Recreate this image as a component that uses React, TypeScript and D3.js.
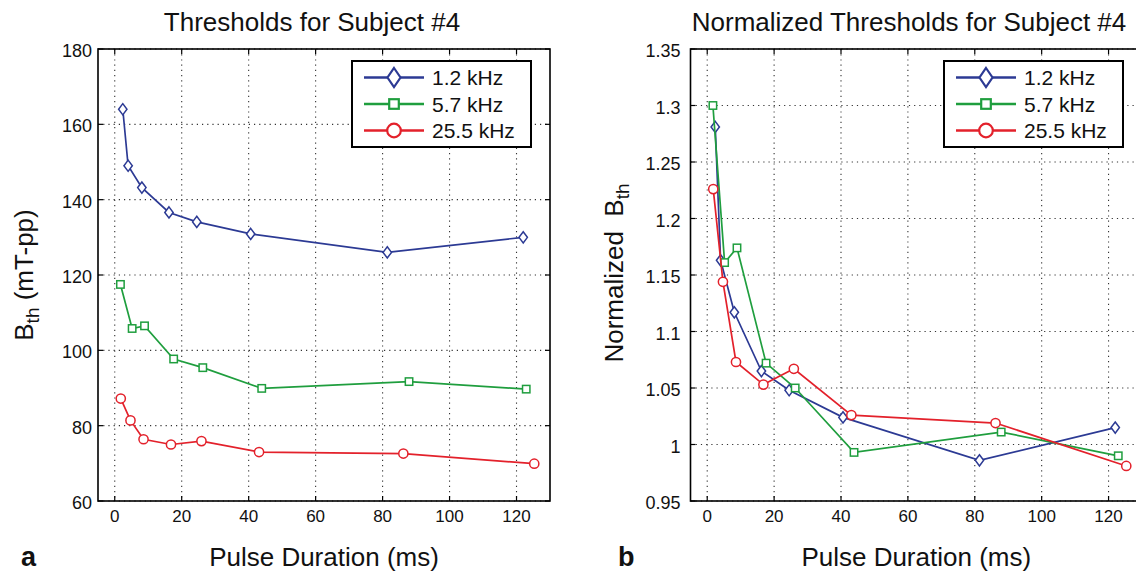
import React, { useEffect, useRef } from 'react';
import * as d3 from 'd3';

// Pulse durations (ms) for each carrier frequency
const durations12 = [2.4, 4.0, 8.1, 16.2, 24.5, 40.6, 81.4, 122.0];
const durations57 = [1.7, 5.2, 8.9, 17.6, 26.3, 43.9, 87.9, 122.9];
const durations255 = [1.8, 4.7, 8.6, 16.8, 25.9, 43.1, 86.2, 125.3];

// Panel a: thresholds (mT-pp)
const thresh12 = [164.0, 149.0, 143.2, 136.6, 134.1, 130.9, 126.0, 130.0];
const thresh57 = [117.5, 105.8, 106.5, 97.7, 95.4, 89.9, 91.7, 89.7];
const thresh255 = [87.2, 81.4, 76.4, 75.0, 75.9, 73.0, 72.6, 69.9];

// Panel b: normalized thresholds
const norm12 = [1.281, 1.163, 1.117, 1.065, 1.048, 1.024, 0.986, 1.015];
const norm57 = [1.3, 1.161, 1.174, 1.072, 1.05, 0.993, 1.011, 0.99];
const norm255 = [1.226, 1.144, 1.073, 1.053, 1.067, 1.026, 1.019, 0.981];

const seriesLabels = ['1.2 kHz', '5.7 kHz', '25.5 kHz'];
const xTicks = [0, 20, 40, 60, 80, 100, 120];
const yTicksA = [60, 80, 100, 120, 140, 160, 180];
const yTicksB = [0.95, 1, 1.05, 1.1, 1.15, 1.2, 1.25, 1.3, 1.35];

const colors = ['#2c3a94', '#1f9e3e', '#e3212b'];
const markers = ['diamond', 'square', 'circle'];
const font = "'Liberation Sans', Arial, Helvetica, sans-serif";

type Panel = {
  left: number;
  right: number;
  top: number;
  bottom: number;
  yDomain: [number, number];
  yTicks: number[];
  yFormat: (v: number) => string;
  series: { x: number[]; y: number[] }[];
  title: string;
  titleX: number;
  letter: string;
  letterX: number;
  legendX: number;
  tickPad: number;
};

function drawMarker(g: any, kind: string, x: number, y: number, color: string, big: boolean) {
  const sw = big ? 2.2 : 1.5;
  if (kind === 'diamond') {
    const w = big ? 6.5 : 4.2;
    const h = big ? 9.5 : 5.6;
    g.append('path')
      .attr('d', `M${x},${y - h}L${x + w},${y}L${x},${y + h}L${x - w},${y}Z`)
      .attr('fill', 'white').attr('stroke', color).attr('stroke-width', sw);
  } else if (kind === 'square') {
    const s = big ? 4.8 : 3.7;
    g.append('rect')
      .attr('x', x - s).attr('y', y - s).attr('width', 2 * s).attr('height', 2 * s)
      .attr('fill', 'white').attr('stroke', color).attr('stroke-width', sw);
  } else {
    g.append('circle')
      .attr('cx', x).attr('cy', y).attr('r', big ? 6.8 : 4.6)
      .attr('fill', 'white').attr('stroke', color).attr('stroke-width', sw);
  }
}

function drawPanel(svg: any, p: Panel) {
  const x = d3.scaleLinear().domain([-5, 130]).range([p.left, p.right]);
  const y = d3.scaleLinear().domain(p.yDomain).range([p.bottom, p.top]);
  const g = svg.append('g');

  // dotted grid
  const grid = g.append('g').attr('stroke', '#333').attr('stroke-width', 1.1).attr('stroke-dasharray', '1.2,4');
  xTicks.forEach(t => {
    grid.append('line').attr('x1', x(t)).attr('x2', x(t)).attr('y1', p.top).attr('y2', p.bottom);
  });
  p.yTicks.forEach(t => {
    grid.append('line').attr('x1', p.left).attr('x2', p.right).attr('y1', y(t)).attr('y2', y(t));
  });

  // inward ticks on all four sides
  const ticks = g.append('g').attr('stroke', '#000').attr('stroke-width', 1.2);
  xTicks.forEach(t => {
    ticks.append('line').attr('x1', x(t)).attr('x2', x(t)).attr('y1', p.bottom).attr('y2', p.bottom - 5);
    ticks.append('line').attr('x1', x(t)).attr('x2', x(t)).attr('y1', p.top).attr('y2', p.top + 5);
  });
  p.yTicks.forEach(t => {
    ticks.append('line').attr('x1', p.left).attr('x2', p.left + 5).attr('y1', y(t)).attr('y2', y(t));
    ticks.append('line').attr('x1', p.right).attr('x2', p.right - 5).attr('y1', y(t)).attr('y2', y(t));
  });

  // axes box
  g.append('rect')
    .attr('x', p.left).attr('y', p.top)
    .attr('width', p.right - p.left).attr('height', p.bottom - p.top)
    .attr('fill', 'none').attr('stroke', '#000').attr('stroke-width', 1.6);

  // tick labels
  g.selectAll('.xt').data(xTicks).enter().append('text')
    .attr('x', (d: number) => x(d)).attr('y', 522)
    .attr('text-anchor', 'middle').attr('font-size', 17).attr('font-family', font).attr('fill', '#111')
    .text((d: number) => String(d));
  g.selectAll('.yt').data(p.yTicks).enter().append('text')
    .attr('x', p.left - p.tickPad).attr('y', (d: number) => y(d) + 8)
    .attr('text-anchor', 'end').attr('font-size', 18).attr('font-family', font).attr('fill', '#111')
    .text((d: number) => p.yFormat(d));

  // series
  const line = d3.line<[number, number]>().x(d => x(d[0])).y(d => y(d[1]));
  p.series.forEach((s, i) => {
    const pts = s.x.map((v, j) => [v, s.y[j]] as [number, number]);
    g.append('path').attr('d', line(pts)).attr('fill', 'none')
      .attr('stroke', colors[i]).attr('stroke-width', 1.7);
    pts.forEach(pt => drawMarker(g, markers[i], x(pt[0]), y(pt[1]), colors[i], false));
  });

  // legend
  const lg = g.append('g');
  lg.append('rect')
    .attr('x', p.legendX).attr('y', 61).attr('width', 179).attr('height', 86)
    .attr('fill', 'white').attr('stroke', '#000').attr('stroke-width', 2);
  seriesLabels.forEach((lab, i) => {
    const ry = 77.5 + i * 26.5;
    lg.append('line')
      .attr('x1', p.legendX + 12).attr('x2', p.legendX + 72).attr('y1', ry).attr('y2', ry)
      .attr('stroke', colors[i]).attr('stroke-width', 2.6);
    drawMarker(lg, markers[i], p.legendX + 42, ry, colors[i], true);
    lg.append('text')
      .attr('x', p.legendX + 80).attr('y', ry + 7.5)
      .attr('font-size', 21).attr('font-family', font).attr('fill', '#111')
      .text(lab);
  });

  // titles and labels
  g.append('text')
    .attr('x', p.titleX).attr('y', 31).attr('text-anchor', 'middle')
    .attr('font-size', 26).attr('font-family', font).attr('fill', '#111')
    .text(p.title);
  g.append('text')
    .attr('x', (p.left + p.right) / 2).attr('y', 566).attr('text-anchor', 'middle')
    .attr('font-size', 26).attr('font-family', font).attr('fill', '#111')
    .text('Pulse Duration (ms)');
  g.append('text')
    .attr('x', p.letterX).attr('y', 566)
    .attr('font-size', 27).attr('font-weight', 'bold').attr('font-family', font).attr('fill', '#111')
    .text(p.letter);
}

const App = () => {
  const svgRef = useRef<SVGSVGElement>(null);

  useEffect(() => {
    const svg = d3.select(svgRef.current);
    svg.selectAll('*').remove();

    drawPanel(svg, {
      left: 98, right: 550, top: 49, bottom: 501,
      yDomain: [60, 180], yTicks: yTicksA, yFormat: v => String(v),
      series: [
        { x: durations12, y: thresh12 },
        { x: durations57, y: thresh57 },
        { x: durations255, y: thresh255 },
      ],
      title: 'Thresholds for Subject #4', titleX: 312,
      letter: 'a', letterX: 21, legendX: 352, tickPad: 6,
    });

    drawPanel(svg, {
      left: 690.5, right: 1142, top: 49, bottom: 501,
      yDomain: [0.95, 1.35], yTicks: yTicksB, yFormat: v => d3.format('~g')(v),
      series: [
        { x: durations12, y: norm12 },
        { x: durations57, y: norm57 },
        { x: durations255, y: norm255 },
      ],
      title: 'Normalized Thresholds for Subject #4', titleX: 909,
      letter: 'b', letterX: 618, legendX: 944, tickPad: 10,
    });

    // y-axis labels
    const la = svg.append('text')
      .attr('transform', 'translate(33,275) rotate(-90)')
      .attr('text-anchor', 'middle').attr('font-size', 26).attr('font-family', font).attr('fill', '#111');
    la.append('tspan').text('B');
    la.append('tspan').attr('font-size', 19).attr('dy', 6).text('th');
    la.append('tspan').attr('dy', -6).text(' (mT-pp)');

    const lb = svg.append('text')
      .attr('transform', 'translate(623,273) rotate(-90)')
      .attr('text-anchor', 'middle').attr('font-size', 26).attr('font-family', font).attr('fill', '#111')
      .attr('xml:space', 'preserve');
    lb.append('tspan').text('Normalized\u00a0\u00a0B');
    lb.append('tspan').attr('font-size', 19).attr('dy', 6).text('th');
  }, []);

  return (
    <svg
      ref={svgRef}
      width={1136}
      height={573}
      style={{ position: 'absolute', left: 0, top: 0, background: 'white' }}
    />
  );
};

export default App;
